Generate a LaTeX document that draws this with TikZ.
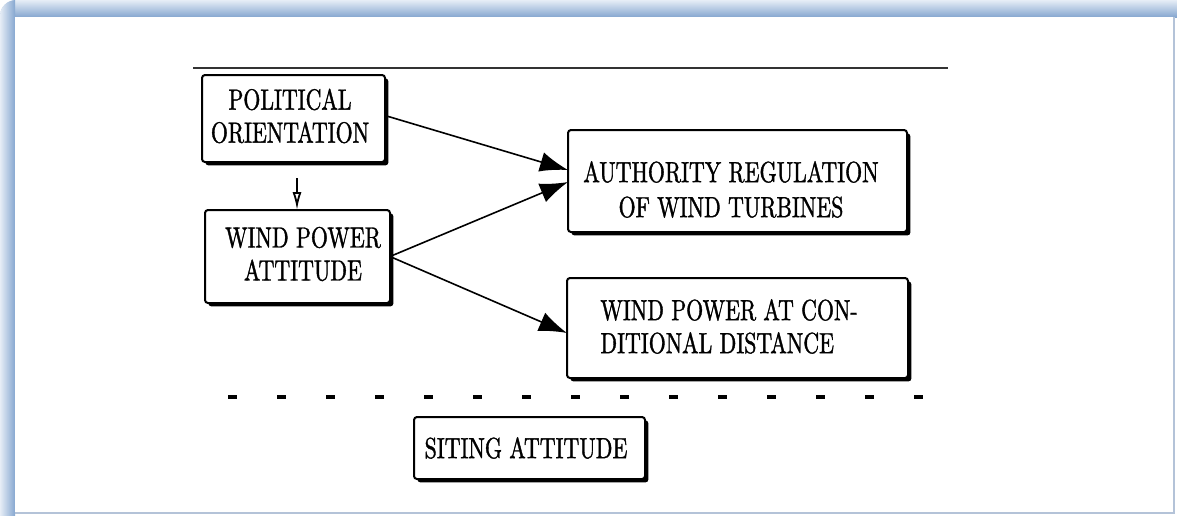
\documentclass[tikz,border=0pt]{standalone}
\usepackage{fontspec}
\newfontfamily\figfont{lmroman10-regular}[Extension=.otf,FakeStretch=0.75,FakeBold=1.2]
\usetikzlibrary{arrows.meta,shadows,calc}
\definecolor{frameblue}{HTML}{86A7D0}
\definecolor{framelight}{HTML}{E6EDF6}
\definecolor{frameline}{HTML}{B4C3D8}
\begin{document}
\begin{tikzpicture}[x=0.5pt,y=-0.5pt,
  box/.style={draw=black, line width=1pt, fill=white, rounded corners=1.5pt,
    inner sep=0pt, outer sep=0pt,
    drop shadow={shadow xshift=1.7pt, shadow yshift=-1.7pt, fill=black, opacity=1}},
  txt/.style={inner sep=0pt, align=center, font=\figfont\fontsize{14.6}{16.5}\selectfont},
  link/.style={line width=0.8pt, -{Latex[length=14pt,width=10pt]}},
  smallarrow/.style={line width=0.9pt, -{Latex[open,length=9pt,width=4.5pt]}},
  rule/.style={line width=0.8pt, draw=black!80},
  dashrule/.style={line width=1.6pt, dash pattern=on 4.5pt off 20pt}
]
\useasboundingbox (0,0) rectangle (1177,515);
% frame
\fill[white] (0,0) rectangle (1177,515);
\begin{scope}
  \clip[rounded corners=8pt] (0,0) rectangle (1200,540);
  \shade[top color=framelight, bottom color=frameblue] (0,0) rectangle (1177,17);
  \shade[left color=framelight, right color=frameblue] (0,0) rectangle (15,515);
\end{scope}
\fill[white] (15,17) rectangle (1174,513);
\draw[frameline, line width=1pt] (1174,17) -- (1174,513) -- (15,513);

% rules
\coordinate (r1) at (193,68);
\coordinate (r2) at (948,68);
\draw[rule] (r1) -- (r2);
\coordinate (d1) at (228,397);
\coordinate (d2) at (925,397);
\draw[dashrule] (d1) -- (d2);

% boxes
\node[box, minimum width=91.5pt, minimum height=43.5pt] (pol) at (293.5,118.5) {};
\node[box, minimum width=92.5pt, minimum height=46.5pt] (wpa) at (297.5,256.5) {};
\node[box, minimum width=169.5pt, minimum height=51pt] (auth) at (737.5,181) {};
\node[box, minimum width=170.5pt, minimum height=50pt] (wpcd) at (737.5,328) {};
\node[box, minimum width=115.5pt, minimum height=31pt] (sit) at (529.5,448) {};

% texts
\node[txt] (poltxt) at (290,116) {POLITICAL\\ORIENTATION};
\node[txt] (wpatxt) at (303,254) {WIND POWER\\ATTITUDE};
\node[txt, font=\figfont\fontsize{14.6}{17.5}\selectfont] (authtxt) at (731,189.5) {AUTHORITY REGULATION\\OF WIND TURBINES};
\node[txt, align=left, anchor=west] (wpcdtxt) at (600,326.5) {WIND POWER AT CON-\\DITIONAL DISTANCE};
\node[txt] (sittxt) at (526,448) {SITING ATTITUDE};

% connectors
\draw[link] ($(pol.east)+(0,-3)$) -- ($(auth.west)+(0,-11)$);
\draw[link] (wpa.east) -- ($(auth.west)+(0,1)$);
\draw[link] (wpa.east) -- ($(wpcd.west)+(0,5)$);
\coordinate (pa) at ($(pol.south)+(3.5,0)$);
\draw[smallarrow, shorten <=8pt] (pa) -- (pa |- wpa.north);
\end{tikzpicture}
\end{document}
